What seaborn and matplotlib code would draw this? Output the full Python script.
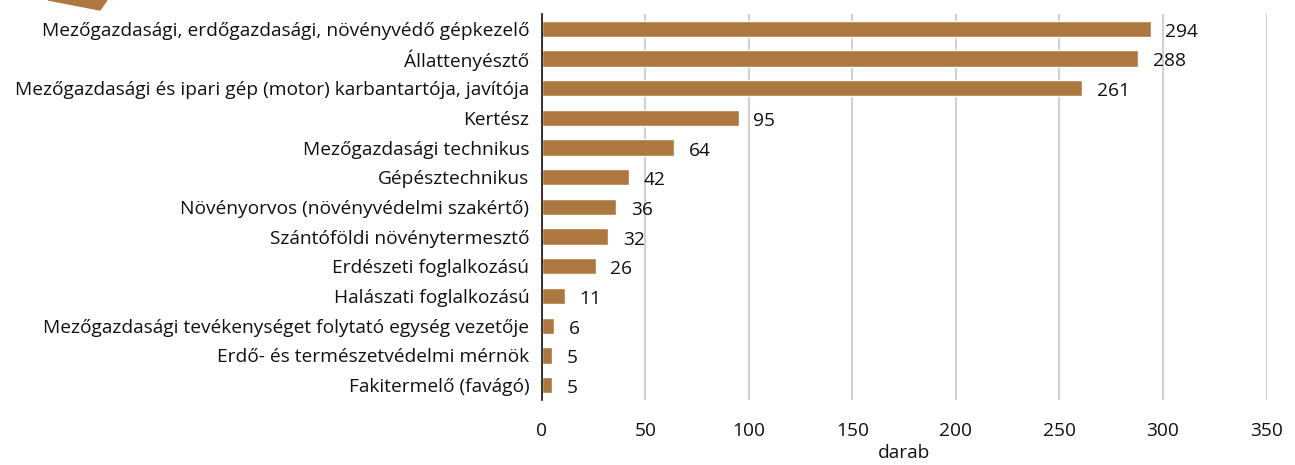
import matplotlib
matplotlib.use("Agg")
import matplotlib.pyplot as plt
from matplotlib.patches import Polygon
import seaborn as sns
import pandas as pd

categories = [
    "Mezőgazdasági, erdőgazdasági, növényvédő gépkezelő",
    "Állattenyésztő",
    "Mezőgazdasági és ipari gép (motor) karbantartója, javítója",
    "Kertész",
    "Mezőgazdasági technikus",
    "Gépésztechnikus",
    "Növényorvos (növényvédelmi szakértő)",
    "Szántóföldi növénytermesztő",
    "Erdészeti foglalkozású",
    "Halászati foglalkozású",
    "Mezőgazdasági tevékenységet folytató egység vezetője",
    "Erdő- és természetvédelmi mérnök",
    "Fakitermelő (favágó)",
]
values = [294, 288, 261, 95, 64, 42, 36, 32, 26, 11, 6, 5, 5]
x_ticks = [0, 50, 100, 150, 200, 250, 300, 350]

df = pd.DataFrame({"foglalkozas": categories, "darab": values})

sns.set_style("white")
plt.rcParams["font.family"] = ["Open Sans", "DejaVu Sans"]

bar_color = "#AD7840"
fs = 13.8

fig = plt.figure(figsize=(12.95, 4.65), dpi=100)
ax = fig.add_axes([0.4185, 0.14, 0.5595, 0.83])

sns.barplot(data=df, x="darab", y="foglalkozas", color=bar_color,
            width=0.55, ax=ax, saturation=1, zorder=3)

for i, v in enumerate(values):
    ax.text(v + 7, i + 0.1, str(v), va="center", ha="left", fontsize=fs, color="#111111")

ax.set_xlim(0, 350)
ax.set_ylim(len(categories) - 0.5, -0.5)
ax.set_xticks(x_ticks)
ax.set_xticklabels([str(t) for t in x_ticks], fontsize=fs, color="#111111")
ax.tick_params(axis="y", labelsize=fs, colors="#111111", length=0, pad=9)
ax.tick_params(axis="x", length=0, pad=16)
ax.grid(axis="x", color="#d0d0d0", linewidth=1.5, zorder=0)
ax.grid(axis="y", visible=False)
for s in ["top", "right", "bottom"]:
    ax.spines[s].set_visible(False)
ax.spines["left"].set_color("#111111")
ax.spines["left"].set_linewidth(1.2)
ax.spines["left"].set_zorder(4)
ax.set_ylabel("")
ax.set_xlabel("darab", fontsize=fs, color="#111111", labelpad=3)

# decorative corner shape
fig.patches.append(Polygon([[48 / 1295, 1.0], [107 / 1295, 1.0], [100 / 1295, 1 - 10 / 465]],
                           closed=True, transform=fig.transFigure, color=bar_color))

fig.savefig("out.png", dpi=100)
